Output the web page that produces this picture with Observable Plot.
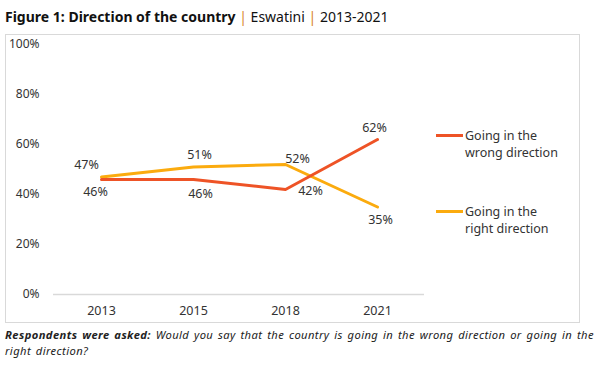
<!DOCTYPE html>
<html><head><meta charset="utf-8">
<script src="https://cdn.jsdelivr.net/npm/d3@7"></script>
<script src="https://cdn.jsdelivr.net/npm/@observablehq/plot@0.6"></script>
<style>
body{margin:0;background:#fff;font-family:"Noto Sans",sans-serif;color:#222;}
#wrap{position:relative;width:606px;height:365px;overflow:hidden;}
#title{position:absolute;left:5px;top:7px;font-size:14px;white-space:nowrap;color:#111;}
#title b{font-weight:700;}
#title .sep{color:#d9832b;}
#box{position:absolute;left:5px;top:34px;width:573px;height:287px;border:1px solid #d9d9d9;}
#chart{position:absolute;left:0;top:0;}
.leg{position:absolute;font-size:12.5px;line-height:17px;color:#333;}
.leg i{position:absolute;left:-29px;top:7px;width:27px;height:3px;}
.cap{position:absolute;left:5px;font-size:11.2px;line-height:15px;font-style:italic;color:#222;white-space:nowrap;letter-spacing:0.4px;word-spacing:1.5px;}
.cap b{font-weight:700;}
</style></head><body>
<div id="wrap">
  <div id="title"><b>Figure 1: Direction of the country</b> <span class="sep">|</span> Eswatini <span class="sep">|</span> 2013-2021</div>
  <div id="box"><div id="chart"></div></div>
  <div class="leg" id="leg1" style="left:465px;top:127px;"><i style="background:#ee5326"></i>Going in the<br>wrong direction</div>
  <div class="leg" id="leg2" style="left:465px;top:203px;"><i style="background:#fbab0e"></i>Going in the<br>right direction</div>
  <div class="cap" style="top:327px;"><b>Respondents were asked:</b> Would you say that the country is going in the wrong direction or going in the</div>
  <div class="cap" style="top:343px;">right direction?</div>
</div>
<script>
const years = ["2013", "2015", "2018", "2021"];
const wrongDirection = [46, 46, 42, 62];
const rightDirection = [47, 51, 52, 35];
const seriesNames = ["Going in the wrong direction", "Going in the right direction"];
const yTicks = [0, 20, 40, 60, 80, 100];

const colors = {[seriesNames[0]]: "#ee5326", [seriesNames[1]]: "#fbab0e"};
// label nudges (styling)
const nudges = {
  [seriesNames[0]]: [[-6, 12], [7, 14], [25, 1], [-3, -12]],
  [seriesNames[1]]: [[-15, -12], [6, -12], [12, -6], [3, 13]]
};

const rows = [];
years.forEach((y, i) => {
  rows.push({year: y, value: wrongDirection[i], series: seriesNames[0], i});
  rows.push({year: y, value: rightDirection[i], series: seriesNames[1], i});
});

const labelMarks = rows.map(r => Plot.text([r], {
  x: "year", y: "value", text: d => d.value + "%",
  dx: nudges[r.series][r.i][0], dy: nudges[r.series][r.i][1],
  fill: "#333", fontSize: 12.5
}));

const plot = Plot.plot({
  width: 573, height: 287,
  marginLeft: 47, marginRight: 155, marginTop: 9, marginBottom: 28,
  style: {fontFamily: "'Noto Sans', sans-serif", fontSize: "12px", color: "#333", background: "transparent"},
  x: {type: "point", domain: years, padding: 0.5},
  y: {domain: [0, 100]},
  marks: [
    Plot.axisX({tickSize: 0, tickPadding: 12, fontSize: 12.5, label: null, fill: "#333"}),
    Plot.axisY(yTicks, {tickSize: 0, tickPadding: 14, fontSize: 12, label: null, tickFormat: d => d + "%", fill: "#333"}),
    Plot.ruleY([0], {stroke: "#d9d9d9", strokeWidth: 1.5}),
    Plot.line(rows.filter(r => r.series === seriesNames[1]), {x: "year", y: "value", stroke: colors[seriesNames[1]], strokeWidth: 3}),
    Plot.line(rows.filter(r => r.series === seriesNames[0]), {x: "year", y: "value", stroke: colors[seriesNames[0]], strokeWidth: 3}),
    ...labelMarks
  ]
});
document.getElementById("chart").appendChild(plot);
</script>
</body></html>
